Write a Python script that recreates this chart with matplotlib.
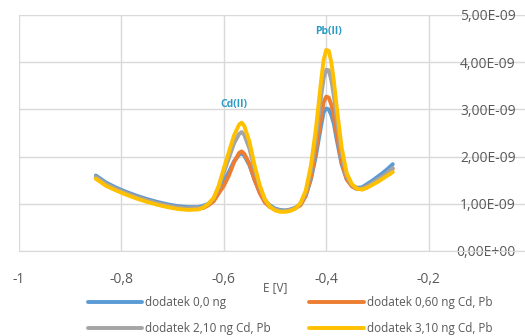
import matplotlib
matplotlib.use("Agg")
import matplotlib.pyplot as plt
from matplotlib.ticker import FuncFormatter

plt.rcParams['font.family'] = ['Open Sans', 'DejaVu Sans']

# potential [V]
E = [-0.85, -0.83, -0.81, -0.79, -0.77, -0.75, -0.73, -0.71, -0.69, -0.67,
     -0.65, -0.64, -0.63, -0.62, -0.61, -0.60, -0.59, -0.58, -0.57, -0.565,
     -0.56, -0.55, -0.54, -0.53, -0.52, -0.51, -0.50, -0.49, -0.48, -0.47,
     -0.46, -0.45, -0.44, -0.43, -0.42, -0.415, -0.41, -0.405, -0.40, -0.395,
     -0.39, -0.385, -0.38, -0.37,
     -0.36, -0.35, -0.34, -0.33, -0.32, -0.31, -0.30, -0.29, -0.28, -0.27]

# current [1e-9 A]
i_00 = [1.60, 1.45, 1.34, 1.25, 1.17, 1.10, 1.04, 0.99, 0.95, 0.93,
        0.93, 0.96, 1.00, 1.08, 1.24, 1.47, 1.68, 1.90, 2.04, 2.07,
        2.02, 1.82, 1.51, 1.25, 1.06, 0.97, 0.90, 0.87, 0.86, 0.88,
        0.92, 0.99, 1.17, 1.51, 2.02, 2.34, 2.65, 2.94, 3.02, 3.00,
        2.88, 2.69, 2.39, 1.84,
        1.52, 1.39, 1.34, 1.35, 1.42, 1.49, 1.57, 1.65, 1.74, 1.84]
i_060 = [1.56, 1.41, 1.31, 1.22, 1.14, 1.07, 1.01, 0.96, 0.92, 0.90,
         0.90, 0.91, 0.97, 1.05, 1.22, 1.38, 1.60, 1.88, 2.08, 2.11,
         2.06, 1.85, 1.51, 1.23, 1.03, 0.93, 0.88, 0.85, 0.85, 0.87,
         0.91, 0.97, 1.17, 1.55, 2.12, 2.47, 2.83, 3.15, 3.27, 3.25,
         3.10, 2.86, 2.51, 1.89,
         1.52, 1.37, 1.31, 1.32, 1.37, 1.43, 1.50, 1.57, 1.65, 1.74]
i_210 = [1.57, 1.42, 1.31, 1.22, 1.14, 1.07, 1.01, 0.96, 0.92, 0.90,
         0.91, 0.93, 1.00, 1.11, 1.34, 1.66, 1.97, 2.28, 2.48, 2.52,
         2.46, 2.17, 1.73, 1.36, 1.09, 0.95, 0.88, 0.85, 0.85, 0.87,
         0.91, 1.00, 1.23, 1.69, 2.39, 2.83, 3.27, 3.66, 3.84, 3.83,
         3.62, 3.28, 2.85, 2.07,
         1.59, 1.40, 1.32, 1.32, 1.37, 1.44, 1.51, 1.58, 1.66, 1.76]
i_310 = [1.53, 1.38, 1.28, 1.19, 1.11, 1.04, 0.98, 0.93, 0.89, 0.87,
         0.88, 0.92, 1.00, 1.12, 1.38, 1.75, 2.10, 2.45, 2.68, 2.72,
         2.65, 2.32, 1.82, 1.40, 1.10, 0.94, 0.86, 0.83, 0.83, 0.85,
         0.90, 1.02, 1.28, 1.80, 2.60, 3.10, 3.60, 4.05, 4.26, 4.24,
         4.00, 3.60, 3.10, 2.20,
         1.65, 1.42, 1.32, 1.30, 1.34, 1.40, 1.46, 1.53, 1.60, 1.67]

series = [(i_00, "dodatek 0,0 ng", "#5B9BD5"),
          (i_060, "dodatek 0,60 ng Cd, Pb", "#ED7D31"),
          (i_210, "dodatek 2,10 ng Cd, Pb", "#A5A5A5"),
          (i_310, "dodatek 3,10 ng Cd, Pb", "#FFC000")]

xticks = [-1, -0.8, -0.6, -0.4, -0.2]
yticks = [0, 1e-9, 2e-9, 3e-9, 4e-9, 5e-9]

fig = plt.figure(figsize=(5.25, 3.36), dpi=100)
ax = fig.add_axes([19/525, 85/336, 512/525, 236/336])

lines = []
for vals, name, col in series:
    ln, = ax.plot(E, [v * 1e-9 for v in vals], color=col, lw=2.8, label=name,
                  solid_capstyle='round', solid_joinstyle='round')
    lines.append(ln)

ax.text(-0.58, 3.1e-9, "Cd(II)", color="#2E9BC4", fontsize=7.5,
        fontweight='bold', ha='center', va='center')
ax.text(-0.396, 4.66e-9, "Pb(II)", color="#2E9BC4", fontsize=7.5,
        fontweight='bold', ha='center', va='center')

ax.set_xlim(-1, 0)
ax.set_ylim(0, 5e-9)
ax.set_xticks(xticks)
ax.set_yticks(yticks)
ax.xaxis.set_major_formatter(FuncFormatter(
    lambda v, p: ("%g" % round(v, 2)).replace('.', ',')))
ax.yaxis.set_major_formatter(FuncFormatter(
    lambda v, p: ("%.2E" % v).replace('.', ',')))
ax.grid(True, color="#D9D9D9", lw=1)
ax.set_axisbelow(True)

ax.spines['left'].set_position(('data', 0))
for s in ['left', 'right', 'top']:
    ax.spines[s].set_visible(False)
ax.spines['bottom'].set_color("#D9D9D9")
ax.tick_params(axis='y', length=0, pad=11, labelsize=10, labelcolor="#595959")
ax.tick_params(axis='x', length=0, pad=15, labelsize=10, labelcolor="#595959")
ax.set_xlabel("E [V]", fontsize=8.5, color="#595959", labelpad=-4)

# column-wise fill -> order so rows read 0,0 / 0,60 then 2,10 / 3,10
order = [0, 2, 1, 3]
fig.legend([lines[k] for k in order], [series[k][1] for k in order],
           loc='center', bbox_to_anchor=(0.552, 0.062), ncol=2, frameon=False,
           fontsize=8.5, handlelength=4.6, columnspacing=3.3, labelspacing=1.1,
           handletextpad=0.25, labelcolor="#595959", borderpad=0.2)

fig.savefig("out.png", dpi=100)
